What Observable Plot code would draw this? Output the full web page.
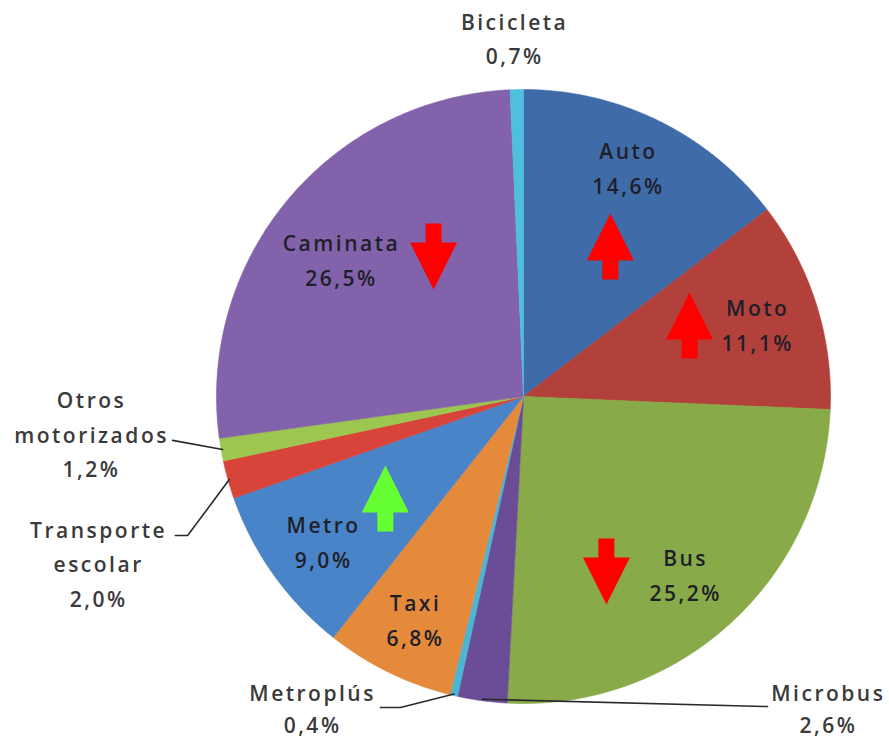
<!DOCTYPE html>
<html>
<head>
<meta charset="utf-8">
<script src="https://cdn.jsdelivr.net/npm/d3@7"></script>
<script src="https://cdn.jsdelivr.net/npm/@observablehq/plot@0.6"></script>
<style>
  html, body { margin: 0; padding: 0; background: #ffffff; }
  #chart text { letter-spacing: 2.5px; }
</style>
</head>
<body>
<div id="chart"></div>
<script>
// ---------- data ----------
const categories = ["Auto", "Moto", "Bus", "Microbus", "Metroplús", "Taxi", "Metro",
  "Transporte escolar", "Otros motorizados", "Caminata", "Bicicleta"];
const categoryLabels = ["Auto", "Moto", "Bus", "Microbus", "Metroplús", "Taxi", "Metro",
  "Transporte\nescolar", "Otros\nmotorizados", "Caminata", "Bicicleta"];
const shares = [14.6, 11.1, 25.2, 2.6, 0.4, 6.8, 9.0, 2.0, 1.2, 26.5, 0.7];
const shareLabels = ["14,6%", "11,1%", "25,2%", "2,6%", "0,4%", "6,8%", "9,0%",
  "2,0%", "1,2%", "26,5%", "0,7%"];
const sliceColors = ["#3F6BA8", "#B3413B", "#88AA48", "#6B4C96", "#4BB5D3", "#E5893A",
  "#4A84C8", "#D8433A", "#9CC64F", "#8262AA", "#4EC0DD"];
const outsideCategories = ["Bicicleta", "Otros motorizados", "Transporte escolar", "Metroplús", "Microbus"];
const arrowCategories = ["Auto", "Moto", "Bus", "Metro", "Caminata"];
const arrowDirections = ["up", "up", "down", "up", "down"];
const arrowTones = ["bad", "bad", "bad", "good", "bad"];

// ---------- layout (unit-circle coordinates, pie centre = 0,0, radius = 1) ----------
const W = 889, H = 743;
const cx = 523, cy = 396, R = 307;
const insideLabelRadius = 0.8;
const insideLabelOverride = {
  "Auto": [0.342, 0.752],
  "Bus": [0.528, -0.573],
  "Caminata": [-0.593, 0.453]
};
const outsideLabelPos = {
  "Bicicleta": [-0.029, 1.174],
  "Otros motorizados": [-1.407, -0.114],
  "Transporte escolar": [-1.384, -0.537],
  "Metroplús": [-0.687, -1.010],
  "Microbus": [0.993, -1.010]
};
const outsideLineHeight = { "Metroplús": 1.52, "Microbus": 1.52 };
const leaderAnchors = {
  "Otros motorizados": [[-1.143, -0.143]],
  "Transporte escolar": [[-1.134, -0.453], [-1.094, -0.453]],
  "Metroplús": [[-0.466, -1.013], [-0.401, -1.013]],
  "Microbus": [[0.795, -1.010]]
};
const arrowCenters = {
  "Auto": [0.283, 0.489],
  "Moto": [0.541, 0.231],
  "Bus": [0.270, -0.570],
  "Metro": [-0.450, -0.332],
  "Caminata": [-0.293, 0.456]
};
const arrowPx = { height: 66, headH: 47, headW: 47, shaftW: 16 };

// ---------- geometry ----------
const total = d3.sum(shares);
const rad = Math.PI / 180;
let acc = 0;
const slices = categories.map((c, i) => {
  const a0 = acc / total * 360;
  acc += shares[i];
  const a1 = acc / total * 360;
  return { category: c, a0, a1, mid: (a0 + a1) / 2, i };
});
const polar = (r, deg) => [r * Math.sin(deg * rad), r * Math.cos(deg * rad)];

const slicePts = [];
for (const s of slices) {
  slicePts.push({ category: s.category, x: 0, y: 0 });
  const n = Math.max(2, Math.ceil((s.a1 - s.a0) / 0.5));
  for (let k = 0; k <= n; k++) {
    const [x, y] = polar(1, s.a0 + (s.a1 - s.a0) * k / n);
    slicePts.push({ category: s.category, x, y });
  }
  slicePts.push({ category: s.category, x: 0, y: 0 });
}

const insideLabels = slices.filter(s => !outsideCategories.includes(s.category)).map(s => {
  const p = insideLabelOverride[s.category] || polar(insideLabelRadius, s.mid);
  return { x: p[0], y: p[1], text: categoryLabels[s.i] + "\n" + shareLabels[s.i] };
});
const outsideLabels = outsideCategories.map(c => {
  const i = categories.indexOf(c);
  const p = outsideLabelPos[c];
  return { category: c, x: p[0], y: p[1], text: categoryLabels[i] + "\n" + shareLabels[i] };
});

const leaderPts = [];
for (const c of Object.keys(leaderAnchors)) {
  const s = slices[categories.indexOf(c)];
  for (const p of leaderAnchors[c]) leaderPts.push({ category: c, x: p[0], y: p[1] });
  const [x, y] = polar(0.995, s.mid);
  leaderPts.push({ category: c, x, y });
}

const arrowPts = [];
arrowCategories.forEach((c, i) => {
  const [ax, ay] = arrowCenters[c];
  const s = arrowDirections[i] === "up" ? 1 : -1;
  const h = arrowPx.height / R, hh = arrowPx.headH / R, hw = arrowPx.headW / 2 / R, sw = arrowPx.shaftW / 2 / R;
  const top = h / 2, neck = h / 2 - hh, bot = -h / 2;
  const shape = [[0, top], [hw, neck], [sw, neck], [sw, bot], [-sw, bot], [-sw, neck], [-hw, neck], [0, top]];
  for (const [dx, dy] of shape) arrowPts.push({ category: c, tone: arrowTones[i], x: ax + dx, y: ay + s * dy });
});

const textStyle = { fontSize: 21, fontWeight: 600, textAnchor: "middle" };
const normalOutside = outsideLabels.filter(d => !outsideLineHeight[d.category]);
const tightOutside = outsideLabels.filter(d => outsideLineHeight[d.category]);

// ---------- plot ----------
const chart = Plot.plot({
  width: W,
  height: H,
  margin: 0,
  x: { domain: [-1, 1], range: [cx - R, cx + R], axis: null },
  y: { domain: [-1, 1], range: [cy + R, cy - R], axis: null },
  color: { domain: categories, range: sliceColors },
  style: { fontFamily: "'Open Sans', sans-serif", background: "#ffffff", overflow: "visible" },
  marks: [
    Plot.line(slicePts, { x: "x", y: "y", z: "category", fill: "category", stroke: "category", strokeWidth: 0.6, curve: "linear" }),
    Plot.line(leaderPts, { x: "x", y: "y", z: "category", stroke: "#2a2a2a", strokeWidth: 1.6, curve: "linear" }),
    Plot.line(arrowPts.filter(d => d.tone === "bad"), { x: "x", y: "y", z: "category", fill: "#FF0000", stroke: "none", curve: "linear" }),
    Plot.line(arrowPts.filter(d => d.tone === "good"), { x: "x", y: "y", z: "category", fill: "#66FF33", stroke: "none", curve: "linear" }),
    Plot.text(insideLabels, { x: "x", y: "y", text: "text", fill: "#1f1f2a", lineHeight: 1.65, ...textStyle }),
    Plot.text(normalOutside, { x: "x", y: "y", text: "text", fill: "#3a3a3a", lineHeight: 1.65, ...textStyle }),
    Plot.text(tightOutside, { x: "x", y: "y", text: "text", fill: "#3a3a3a", lineHeight: 1.52, ...textStyle })
  ]
});
document.getElementById("chart").appendChild(chart);
</script>
</body>
</html>
